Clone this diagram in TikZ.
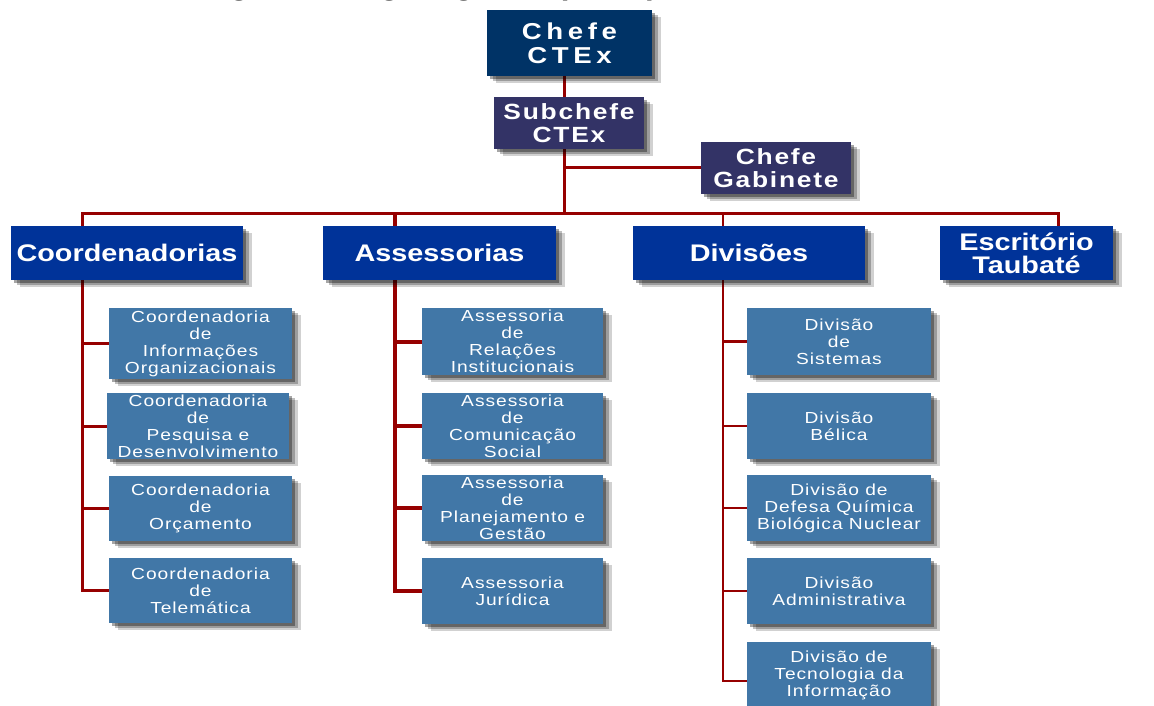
\documentclass[tikz,border=0pt]{standalone}
\usepackage{fontspec}
\setmainfont{Liberation Sans}
\newfontfamily\topf[FakeStretch=1.2,LetterSpace=20]{Liberation Sans}
\newfontfamily\midf[FakeStretch=1.2,LetterSpace=8]{Liberation Sans}
\newfontfamily\bigf[FakeStretch=1.2]{Liberation Sans}
\newfontfamily\smallf[FakeStretch=1.2,LetterSpace=6]{Liberation Sans}
\usetikzlibrary{shadows,backgrounds,calc}
\definecolor{cTop}{RGB}{0,51,102}
\definecolor{cMid}{RGB}{51,51,102}
\definecolor{cBig}{RGB}{0,51,153}
\definecolor{cSmall}{RGB}{65,119,167}
\definecolor{cWire}{RGB}{150,0,0}
\begin{document}
\begin{tikzpicture}[x=1pt,y=-1pt,
  shadowy/.style={
    drop shadow={shadow xshift=9pt,shadow yshift=-7pt,opacity=.18,fill=black},
    drop shadow={shadow xshift=6pt,shadow yshift=-5pt,opacity=.25,fill=black},
    drop shadow={shadow xshift=3pt,shadow yshift=-3pt,opacity=.35,fill=black}},
  bx/.style={rectangle,inner sep=0pt,outer sep=0pt,text=white,align=center,shadowy},
  topbox/.style={bx,fill=cTop,font=\topf\bfseries\fontsize{23}{24}\selectfont},
  midbox/.style={bx,fill=cMid,font=\midf\bfseries\fontsize{22}{23}\selectfont},
  bigbox/.style={bx,fill=cBig,minimum height=54pt,font=\bigf\bfseries\fontsize{24}{23}\selectfont},
  sbox/.style={bx,fill=cSmall,font=\smallf\fontsize{16}{17}\selectfont},
  wire/.style={draw=cWire,line width=3pt},
  titlef/.style={anchor=base west,inner sep=0pt,text=black,font=\bigf\bfseries\fontsize{26}{26}\selectfont}
]
\useasboundingbox (0,0) rectangle (1154,706);
\clip (0,0) rectangle (1154,706);

\node[titlef] (title) at (202,-4) {Figura 1. Organograma (CTEx)};

% top
\node[topbox,minimum width=165pt,minimum height=66pt] (chefe) at (569.5,43) {Chefe\\CTEx};
\node[midbox,minimum width=150pt,minimum height=52pt] (sub) at (569,123) {Subchefe\\CTEx};
\node[midbox,minimum width=150pt,minimum height=52pt] (gab) at (776,168) {Chefe\\Gabinete};

% level 2
\node[bigbox,minimum width=232pt] (coord) at (127,253) {Coordenadorias};
\node[bigbox,minimum width=233pt] (assess) at (439.5,253) {Assessorias};
\node[bigbox,minimum width=232pt] (divs) at (749,253) {Divisões};
\node[bigbox,minimum width=173pt] (escr) at (1026.5,253) {Escritório\\Taubaté};

% coordenadorias
\node[sbox,minimum width=183pt,minimum height=71pt] (c1) at (200.5,343.5) {Coordenadoria\\de\\Informações\\Organizacionais};
\node[sbox,minimum width=182pt,minimum height=66pt] (c2) at (198,426) {Coordenadoria\\de\\Pesquisa e\\Desenvolvimento};
\node[sbox,minimum width=183pt,minimum height=65pt] (c3) at (200.5,508.5) {Coordenadoria\\de\\Orçamento};
\node[sbox,minimum width=183pt,minimum height=65pt] (c4) at (200.5,590.5) {Coordenadoria\\de\\Telemática};

% assessorias
\node[sbox,minimum width=181pt,minimum height=67pt] (a1) at (512.5,341.5) {Assessoria\\de\\Relações\\Institucionais};
\node[sbox,minimum width=181pt,minimum height=66pt] (a2) at (512.5,426) {Assessoria\\de\\Comunicação\\Social};
\node[sbox,minimum width=181pt,minimum height=66pt] (a3) at (512.5,508) {Assessoria\\de\\Planejamento e\\Gestão};
\node[sbox,minimum width=181pt,minimum height=66pt] (a4) at (512.5,591) {Assessoria\\Jurídica};

% divisoes
\node[sbox,minimum width=184pt,minimum height=67pt] (d1) at (839,341.5) {Divisão\\de\\Sistemas};
\node[sbox,minimum width=184pt,minimum height=66pt] (d2) at (839,426) {Divisão\\Bélica};
\node[sbox,minimum width=184pt,minimum height=66pt] (d3) at (839,508) {Divisão de\\Defesa Química\\Biológica Nuclear};
\node[sbox,minimum width=184pt,minimum height=66pt] (d4) at (839,591) {Divisão\\Administrativa};
\node[sbox,minimum width=184pt,minimum height=66pt] (d5) at (839,675) {Divisão de\\Tecnologia da\\Informação};

% bus points
\coordinate (bc) at (82,213);
\coordinate (ba) at (395,213);
\coordinate (bs) at (564,213);
\coordinate (bd) at (723,213);
\coordinate (be) at (1058,213);

\begin{pgfonlayer}{background}
  \fill[white] (0,0) rectangle (1154,706);
  \draw[wire] (chefe.south -| bs) -- (bs);
  \draw[wire] (bs |- gab.west) -- (gab.west);
  \draw[wire,line join=miter] (bc |- coord.north) -- (bc) -- (be) -- (be |- escr.north);
  \draw[wire] (bc) |- (c1.west);
  \draw[wire] (bc) |- (c2.west);
  \draw[wire] (bc) |- (c3.west);
  \draw[wire] (bc) |- (c4.west);
  \draw[wire,line width=4pt] (ba) |- (a1.west);
  \draw[wire,line width=4pt] (ba) |- (a2.west);
  \draw[wire,line width=4pt] (ba) |- (a3.west);
  \draw[wire,line width=4pt] (ba) |- (a4.west);
  \draw[wire,line width=2.4pt] (bd) |- (d1.west);
  \draw[wire,line width=2.4pt] (bd) |- (d2.west);
  \draw[wire,line width=2.4pt] (bd) |- (d3.west);
  \draw[wire,line width=2.4pt] (bd) |- (d4.west);
  \draw[wire,line width=2.4pt] (bd) |- ($(d5.west)+(0,6)$);
\end{pgfonlayer}
\end{tikzpicture}
\end{document}
